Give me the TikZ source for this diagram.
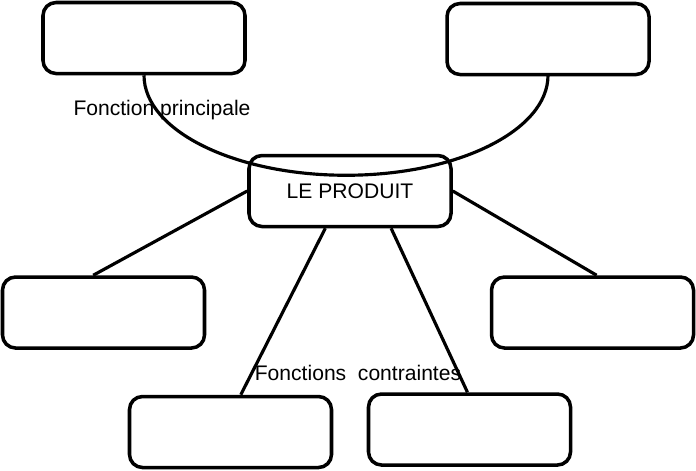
\documentclass[tikz,border=0pt]{standalone}
\usepackage{fontspec}
\setmainfont{Liberation Sans}
\usepackage{tikz}
\usetikzlibrary{calc,positioning}

\tikzset{
	boite/.style={draw, line width=2pt, rounded corners=0.26cm, minimum width=4.04cm, minimum height=1.42cm, inner sep=0pt},
	trait/.style={line width=1.8pt},
	legende/.style={font=\fontsize{12}{14}\selectfont, inner sep=0pt}
}

\begin{document}
\begin{tikzpicture}
		\useasboundingbox (0,0) rectangle (13.92,-9.4);
		% boites vides
		\foreach \n/\x/\y in {tl/2.88/-0.76, tr/10.96/-0.78, ml/2.07/-6.25, mr/11.85/-6.25, bl/4.61/-8.64, br/9.39/-8.59}
		\node[boite] (\n) at (\x,\y) {};
		\node[boite, legende, minimum width=4.04cm, minimum height=1.42cm] (prod) at (7.0,-3.82) {LE PRODUIT};
		% fonction principale
		\draw[trait] (tl.south) arc[start angle=180, end angle=360, x radius=4.04cm, y radius=2.0cm];
		% fonctions contraintes
		\draw[trait] (prod.west) -- ($(ml.north west)!0.45!(ml.north east)$);
		\draw[trait] (prod.east) -- ($(mr.north west)!0.52!(mr.north east)$);
		\draw[trait] ($(prod.south west)!0.38!(prod.south east)$) -- ($(bl.north west)!0.55!(bl.north east)$);
		\draw[trait] ($(prod.south west)!0.70!(prod.south east)$) -- ($(br.north west)!0.49!(br.north east)$);
		\node[legende] (fp) at (3.24,-2.2) {Fonction principale};
		\node[legende] (fc) at (7.16,-7.46) {Fonctions\ \ contraintes};
	\end{tikzpicture}
\end{document}
